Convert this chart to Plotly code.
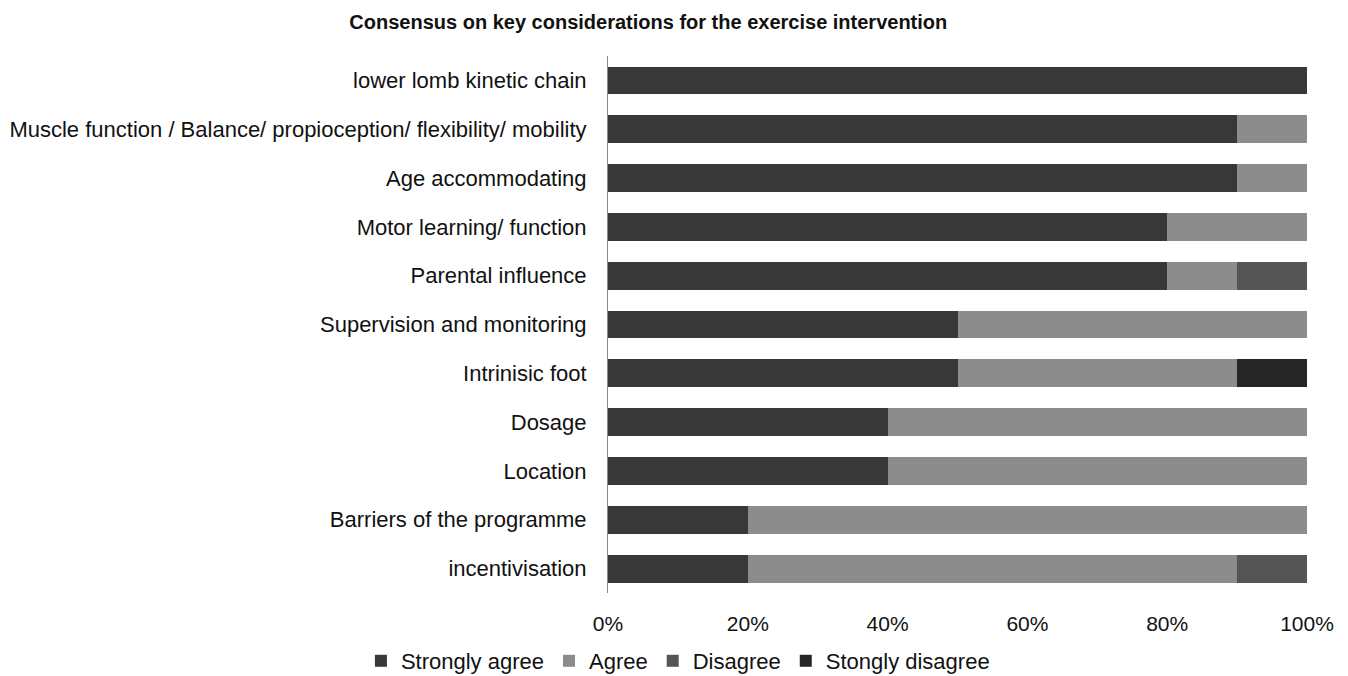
import plotly.graph_objects as go

categories = [
    "lower lomb kinetic chain",
    "Muscle function / Balance/ propioception/ flexibility/ mobility",
    "Age accommodating",
    "Motor learning/ function",
    "Parental influence",
    "Supervision and monitoring",
    "Intrinisic foot",
    "Dosage",
    "Location",
    "Barriers of the programme",
    "incentivisation",
]
strongly_agree = [100, 90, 90, 80, 80, 50, 50, 40, 40, 20, 20]
agree = [0, 10, 10, 20, 10, 50, 40, 60, 60, 80, 70]
disagree = [0, 0, 0, 0, 10, 0, 0, 0, 0, 0, 10]
strongly_disagree = [0, 0, 0, 0, 0, 0, 10, 0, 0, 0, 0]
series_names = ["Strongly agree", "Agree", "Disagree", "Stongly disagree"]
colors = ["#383838", "#8c8c8c", "#555555", "#262626"]
tick_vals = [0, 20, 40, 60, 80, 100]
tick_text = ["0%", "20%", "40%", "60%", "80%", "100%"]

fig = go.Figure()
for name, vals, col in zip(series_names, [strongly_agree, agree, disagree, strongly_disagree], colors):
    fig.add_trace(go.Bar(
        y=categories, x=vals, name=name, orientation="h",
        marker=dict(color=col, line=dict(width=0)),
    ))

fig.update_layout(
    barmode="stack",
    bargap=0.43,
    width=1348, height=676,
    margin=dict(l=600, r=49, t=48, b=91, autoexpand=False),
    paper_bgcolor="white", plot_bgcolor="white",
    font=dict(family="Liberation Sans, Arial, sans-serif", size=22, color="#111111"),
    title=dict(text="<b>Consensus on key considerations for the exercise intervention</b>",
               x=0.475, xanchor="center", y=0.979, yanchor="middle",
               font=dict(size=20, color="#111111")),
    legend=dict(orientation="h", x=0.1, xanchor="center", y=-0.1266, yanchor="middle",
                font=dict(size=22), traceorder="normal", itemwidth=30),
    xaxis=dict(range=[0, 100], tickvals=tick_vals, ticktext=tick_text, showgrid=False,
               zeroline=False, showline=False, ticks="", ticklen=0,
               tickfont=dict(size=21), automargin=False, ticklabelstandoff=16),
    yaxis=dict(autorange="reversed", showline=True, linecolor="#888888", linewidth=1,
               ticks="", showgrid=False, ticklabelstandoff=16, automargin=False),
)
fig.write_html("out.html")
